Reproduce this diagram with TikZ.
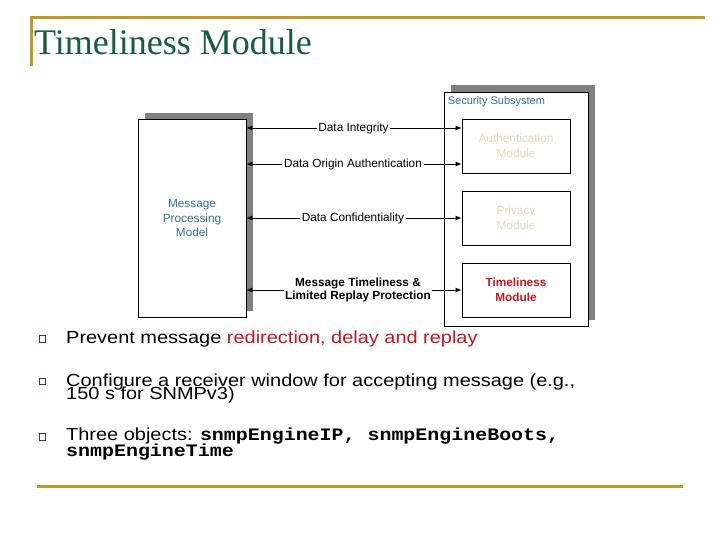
\documentclass[tikz,border=0pt]{standalone}
\usepackage{fontspec}
\setmainfont{Liberation Sans}
\setmonofont{Liberation Mono}
\newfontfamily\titlefont{Liberation Serif}
\newfontfamily\bodyfont[FakeStretch=1.14]{Liberation Sans}
\newfontfamily\codefont[FakeStretch=1.14]{Liberation Mono}
\usetikzlibrary{arrows.meta,shadows,positioning}

\definecolor{slidegold}{RGB}{192,152,40}
\definecolor{titlegreen}{RGB}{22,92,62}
\definecolor{labelblue}{RGB}{52,112,165}
\definecolor{paletan}{RGB}{232,214,186}
\definecolor{alertred}{RGB}{200,22,32}
\definecolor{shadowgray}{RGB}{128,128,128}
\definecolor{bulletgreen}{RGB}{30,80,50}

\tikzset{
  box/.style={draw=black, fill=white, line width=0.8pt, inner sep=0pt, align=center,
    drop shadow={shadow xshift=6.5pt, shadow yshift=6pt, fill=shadowgray, opacity=1}},
  module/.style={draw=black, fill=white, line width=0.8pt, minimum width=108pt,
    minimum height=54pt, inner sep=0pt, align=center,
    font=\fontsize{11.8}{14.5}\selectfont},
  service/.style={inner sep=1.5pt, align=center, font=\fontsize{11.8}{12}\selectfont},
  tip/.style={line width=0.8pt, -{Latex[length=6pt,width=5pt]}},
  bullet/.style={draw=bulletgreen, line width=0.9pt, minimum size=6.5pt, inner sep=0pt},
  item/.style={anchor=base west, inner sep=0pt, font=\bodyfont\fontsize{17.5}{21}\selectfont},
  goldrule/.style={draw=slidegold, line width=3pt}
}

\begin{document}
\begin{tikzpicture}[x=1pt, y=-1pt]
  \path[use as bounding box, fill=white] (0,0) rectangle (720,540);

  % Title and rules
  \draw[goldrule] (30,17.5) -- (705,17.5);
  \draw[goldrule] (31,16) -- (31,66);
  \node[anchor=base west, inner sep=0pt, text=titlegreen,
    font=\titlefont\fontsize{36}{36}\selectfont] (title) at (34,55) {Timeliness Module};
  \draw[goldrule] (37,486) -- (683,486);

  % Message processing model
  \node[box, minimum width=108pt, minimum height=198pt, text=labelblue,
    font=\fontsize{11.8}{14.5}\selectfont] (mpm) at (192,218) {Message\\Processing\\Model};

  % Security subsystem
  \node[box, minimum width=144pt, minimum height=234pt,
    drop shadow={shadow xshift=6.5pt, shadow yshift=6.5pt, fill=shadowgray, opacity=1}] (sec) at (516,209) {};
  \node[anchor=north west, inner sep=0pt, text=labelblue, font=\fontsize{11}{13}\selectfont]
    (seclabel) at ([shift={(4pt,-5pt)}]sec.north west) {Security Subsystem};
  \node[module, text=paletan] (auth) at (516,146) {Authentication\\Module};
  \node[module, text=paletan] (priv) at (516,218) {Privacy\\Module};
  \node[module, text=alertred, font=\fontsize{11.8}{14.5}\selectfont\bfseries] (time) at (516,290) {Timeliness\\Module};

  % Services
  \node[service] (integrity) at (353.5,128) {Data Integrity};
  \node[service] (origin) at (353,164) {Data Origin Authentication};
  \node[service] (confid) at (353,218) {Data Confidentiality};
  \node[service, font=\fontsize{11.8}{12.5}\selectfont\bfseries] (replay) at (358,290)
    {Message Timeliness \&\\Limited Replay Protection};

  \draw[tip] (integrity.west) -- (integrity.west -| mpm.east);
  \draw[tip] (integrity.east) -- (integrity.east -| auth.west);
  \draw[tip] (origin.west) -- (origin.west -| mpm.east);
  \draw[tip] (origin.east) -- (origin.east -| auth.west);
  \draw[tip] (confid.west) -- (confid.west -| mpm.east);
  \draw[tip] (confid.east) -- (confid.east -| priv.west);
  \draw[tip] (replay.west) -- (replay.west -| mpm.east);
  \draw[tip] (replay.east) -- (replay.east -| time.west);

  % Bullets
  \node[bullet] (b1) at (42.5,339) {};
  \node[item] (t1) at (66,343.5) {Prevent message \textcolor{alertred}{redirection, delay and replay}};
  \node[bullet] (b2) at (42.5,381.5) {};
  \node[item] (t2) at (66,386) {Configure a receiver window for accepting message (e.g.,};
  \node[item] (t2b) at (66,399) {150 s for SNMPv3)};
  \node[bullet] (b3) at (42.5,437) {};
  \node[item] (t3) at (66,440) {Three objects: {\codefont\bfseries snmpEngineIP, snmpEngineBoots,}};
  \node[item] (t3b) at (66,456) {\codefont\bfseries snmpEngineTime};
\end{tikzpicture}
\end{document}
